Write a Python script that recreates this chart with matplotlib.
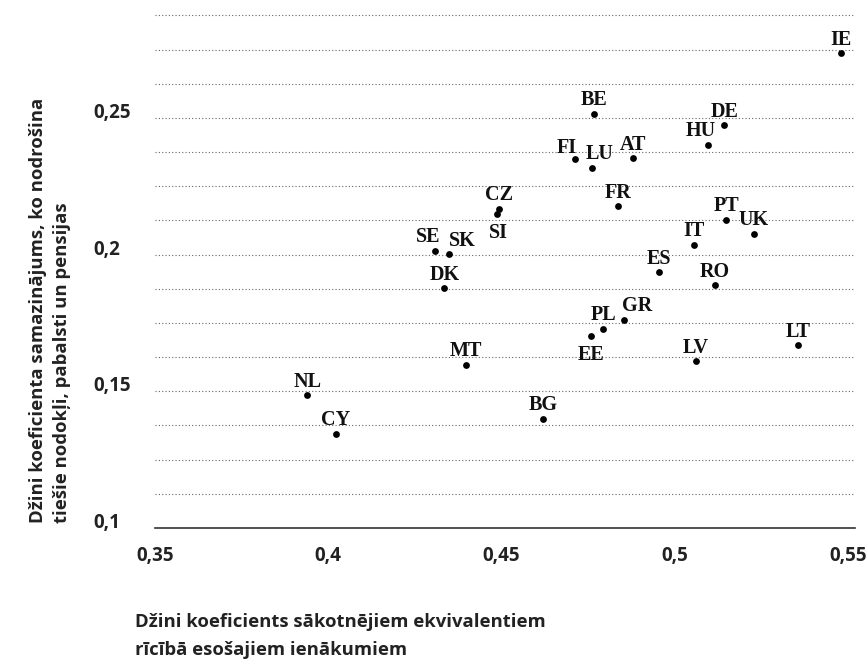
import numpy as np
import matplotlib
matplotlib.use("Agg")
import matplotlib.pyplot as plt

# countries, Gini before transfers (x) and reduction by taxes/benefits/pensions (y)
countries = ["IE", "BE", "DE", "HU", "FI", "LU", "AT", "FR", "CZ", "SI",
             "PT", "UK", "IT", "SE", "SK", "ES", "RO", "DK", "GR", "PL",
             "EE", "LT", "LV", "MT", "NL", "BG", "CY"]
gini_x = [0.548, 0.4766, 0.5143, 0.5097, 0.4713, 0.4760, 0.4880, 0.4835, 0.4493, 0.4486,
          0.5148, 0.5228, 0.5056, 0.4308, 0.4348, 0.4955, 0.5116, 0.4335, 0.4853, 0.4794,
          0.4757, 0.5355, 0.5061, 0.4397, 0.3940, 0.4620, 0.4021]
reduction_y = [0.2737, 0.2516, 0.2473, 0.2401, 0.2350, 0.2317, 0.2353, 0.2177, 0.2167, 0.2148,
               0.2128, 0.2077, 0.2036, 0.2014, 0.2001, 0.1935, 0.1888, 0.1877, 0.1761, 0.1728,
               0.1702, 0.1669, 0.1610, 0.1597, 0.1485, 0.1400, 0.1344]

xticks = [0.35, 0.4, 0.45, 0.5, 0.55]
xtick_labels = ["0,35", "0,4", "0,45", "0,5", "0,55"]
yticks = [0.1, 0.15, 0.2, 0.25]
ytick_labels = ["0,1", "0,15", "0,2", "0,25"]

xlabel = "Džini koeficients sākotnējiem ekvivalentiem\nrīcībā esošajiem ienākumiem"
ylabel = "Džini koeficienta samazinājums, ko nodrošina\ntiešie nodokļi, pabalsti un pensijas"

# label placement tweaks (pixels: dx, dy of label centre from the dot)
label_offsets = {"HU": (-8, 16), "FI": (-9, 13), "LU": (8, 16), "SE": (-7, 16),
                 "SK": (13, 16), "GR": (13, 16), "SI": (2, -16), "EE": (0, -16)}

fig = plt.figure(figsize=(8.68, 6.64), dpi=100)
W, H = 868, 664
ax = fig.add_axes([155 / W, 1 - 528 / H, 700 / W, 517 / H])

ax.scatter(gini_x, reduction_y, s=24, color="black", zorder=3, linewidths=0)

px = 72 / 100
for name, x, y in zip(countries, gini_x, reduction_y):
    dx, dy = label_offsets.get(name, (0, 16))
    ax.annotate(name, (x, y), xytext=(dx * px, dy * px), textcoords="offset points",
                ha="center", va="center_baseline", fontsize=14.5,
                family="Liberation Serif", fontweight="bold", color="#111111")

ax.set_xlim(0.35, 0.552)
ax.set_ylim(0.1, 0.2891)

ax.set_xticks(xticks)
ax.set_xticklabels(xtick_labels)
ax.set_yticks(yticks)
ax.set_yticklabels(ytick_labels)
ax.set_yticks(np.arange(0.1125, 0.289, 0.0125), minor=True)

ax.grid(axis="y", which="both", linestyle=(0, (1, 2)), color="#666666", linewidth=0.8)
ax.set_axisbelow(True)

for side in ["top", "right", "left"]:
    ax.spines[side].set_visible(False)
ax.spines["bottom"].set_color("#333333")
ax.spines["bottom"].set_linewidth(1.2)

ax.tick_params(which="both", length=0)
ax.tick_params(axis="x", pad=13)
ax.tick_params(axis="y", pad=44.5)
for lab in ax.get_xticklabels() + ax.get_yticklabels():
    lab.set_family("Open Sans")
    lab.set_fontweight("bold")
    lab.set_fontsize(13.5)
    lab.set_color("#222222")
for lab in ax.get_yticklabels():
    lab.set_horizontalalignment("left")
    lab.set_verticalalignment("baseline")

fig.text(135 / W, 1 - 636 / H, xlabel, ha="left", va="center", family="Open Sans",
         fontweight="bold", fontsize=13.3, linespacing=1.65, color="#222222")
fig.text(50 / W, 1 - 523 / H, ylabel, ha="center", va="bottom", rotation=90,
         multialignment="left", family="Open Sans", fontweight="bold",
         fontsize=13.3, linespacing=1.45, color="#222222")

fig.savefig("out.png", dpi=100)
